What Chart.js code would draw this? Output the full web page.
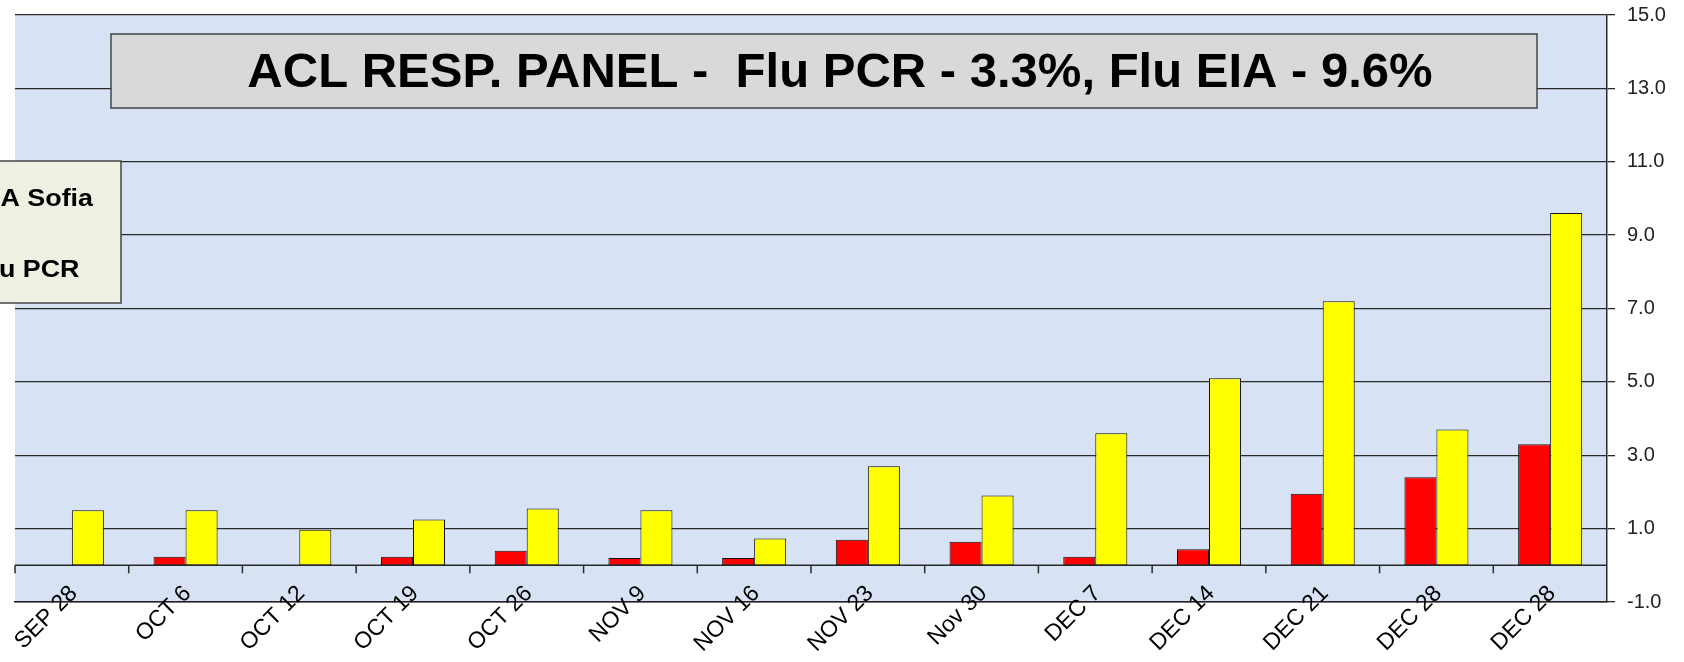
<!DOCTYPE html>
<html>
<head>
<meta charset="utf-8">
<title>ACL RESP. PANEL</title>
<script src="https://cdn.jsdelivr.net/npm/chart.js@4/dist/chart.umd.min.js"></script>
<style>
    body { margin: 0; background: #fff; }
    canvas { display: block; }
</style>
</head>
<body>
<canvas id="myChart" width="1684" height="662" style="width:1684px;height:662px"></canvas>
<script>
// data
let weeks = ["SEP 28", "OCT 6", "OCT 12", "OCT 19", "OCT 26", "NOV 9", "NOV 16", "NOV 23", "Nov 30", "DEC 7", "DEC 14", "DEC 21", "DEC 28", "DEC 28"];
let fluPcr = [0, 0.23, 0, 0.23, 0.4, 0.2, 0.2, 0.7, 0.64, 0.23, 0.44, 1.95, 2.4, 3.3];
let eiaSofia = [1.5, 1.5, 0.97, 1.25, 1.55, 1.5, 0.73, 2.7, 1.9, 3.6, 5.1, 7.2, 3.7, 9.6];
let yTicks = [-1, 1, 3, 5, 7, 9, 11, 13, 15];
let chartTitle = "ACL RESP. PANEL -  Flu PCR - 3.3%, Flu EIA - 9.6%";

let font = "'Liberation Sans', Arial, sans-serif";

// plot background (blue) and white page
let background = {
    id: "background",
    beforeDraw(chart) {
        let ctx = chart.ctx;
        let a = chart.chartArea;
        ctx.save();
        ctx.fillStyle = "#fff";
        ctx.fillRect(0, 0, chart.width, chart.height);
        ctx.fillStyle = "#d7e3f4";
        ctx.fillRect(a.left, a.top, a.right - a.left, a.bottom - a.top);
        ctx.restore();
    }
};

// the category axis line at zero with its tick marks
let zeroLine = {
    id: "zeroLine",
    beforeDatasetsDraw(chart) {
        let ctx = chart.ctx;
        let x = chart.scales.x;
        let y0 = chart.scales.y.getPixelForValue(0);
        let step = x.width / weeks.length;
        ctx.save();
        ctx.strokeStyle = "#2a2a2a";
        ctx.lineWidth = 1.5;
        ctx.beginPath();
        ctx.moveTo(x.left, y0);
        ctx.lineTo(x.right, y0);
        for (let i = 0; i < weeks.length; i++) {
            ctx.moveTo(x.left + i * step, y0);
            ctx.lineTo(x.left + i * step, y0 + 8);
        }
        ctx.stroke();
        ctx.restore();
    }
};

// slanted week labels, they run up over the bottom line like in the picture
let weekLabels = {
    id: "weekLabels",
    afterDraw(chart) {
        let ctx = chart.ctx;
        let x = chart.scales.x;
        ctx.save();
        ctx.font = "23px " + font;
        ctx.fillStyle = "#000";
        ctx.textAlign = "right";
        ctx.textBaseline = "middle";
        for (let i = 0; i < weeks.length; i++) {
            ctx.save();
            ctx.translate(x.getPixelForValue(i) + 2, x.top - 12);
            ctx.rotate(-Math.PI / 4);
            ctx.fillText(weeks[i], 0, 0);
            ctx.restore();
        }
        ctx.restore();
    }
};

// grey title box inside the plot
let titleBox = {
    id: "titleBox",
    afterDraw(chart) {
        let ctx = chart.ctx;
        ctx.save();
        ctx.fillStyle = "#d9d9d9";
        ctx.strokeStyle = "#444";
        ctx.lineWidth = 1.5;
        ctx.fillRect(111, 34, 1426, 74);
        ctx.strokeRect(111, 34, 1426, 74);
        ctx.fillStyle = "#000";
        ctx.font = "bold 49px " + font;
        ctx.textAlign = "center";
        ctx.textBaseline = "alphabetic";
        ctx.fillText(chartTitle, 840, 87);
        ctx.restore();
    }
};

// legend box, cut off by the left edge like in the picture
let sideLegend = {
    id: "sideLegend",
    afterDraw(chart) {
        let ctx = chart.ctx;
        let sets = chart.data.datasets.slice().reverse();
        ctx.save();
        ctx.fillStyle = "#eef1e2";
        ctx.strokeStyle = "#444";
        ctx.lineWidth = 1.5;
        ctx.fillRect(-10, 161, 131, 142);
        ctx.strokeRect(-10, 161, 131, 142);
        ctx.font = "bold 24px " + font;
        ctx.textAlign = "left";
        for (let i = 0; i < sets.length; i++) {
            let ty = 206 + i * 71;
            ctx.fillStyle = sets[i].backgroundColor;
            ctx.fillRect(-50, ty - 16, 16, 16);
            ctx.save();
            ctx.translate(-25, ty);
            ctx.scale(1.12, 1);
            ctx.fillStyle = "#000";
            ctx.fillText(sets[i].label, 0, 0);
            ctx.restore();
        }
        ctx.restore();
    }
};

let myChart = new Chart(document.getElementById("myChart").getContext("2d"), {
    type: "bar",
    data: {
        labels: weeks,
        datasets: [{
            label: "Flu PCR",
            data: fluPcr,
            backgroundColor: "#ff0000",
            borderColor: "#111",
            borderWidth: 1,
            borderSkipped: false
        }, {
            label: "EIA Sofia",
            data: eiaSofia,
            backgroundColor: "#ffff00",
            borderColor: "#111",
            borderWidth: 1,
            borderSkipped: false
        }]
    },
    options: {
        responsive: false,
        animation: false,
        devicePixelRatio: 1,
        layout: { padding: { top: 15, left: 15, right: 0, bottom: 0 } },
        datasets: { bar: { categoryPercentage: 0.563, barPercentage: 1 } },
        plugins: {
            legend: { display: false },
            tooltip: { enabled: false }
        },
        scales: {
            x: {
                grid: { display: false },
                border: { display: true, color: "#222", width: 1.5 },
                ticks: { display: false },
                afterFit(scale) {
                    scale.height = 60;
                    scale.paddingLeft = 0;
                    scale.paddingRight = 0;
                }
            },
            y: {
                position: "right",
                min: -1,
                max: 15,
                afterBuildTicks(scale) { scale.ticks = yTicks.map(v => ({ value: v })); },
                grid: { color: "#2a2a2a", lineWidth: 1.3, tickLength: 8 },
                border: { display: true, color: "#2a2a2a", width: 1.5 },
                ticks: {
                    padding: 12,
                    color: "#222",
                    font: { family: font, size: 20 },
                    callback: v => v.toFixed(1)
                },
                afterFit(scale) {
                    scale.width = 77;
                    scale.paddingTop = 0;
                    scale.paddingBottom = 0;
                }
            }
        }
    },
    plugins: [background, zeroLine, weekLabels, titleBox, sideLegend]
});
</script>
</body>
</html>
